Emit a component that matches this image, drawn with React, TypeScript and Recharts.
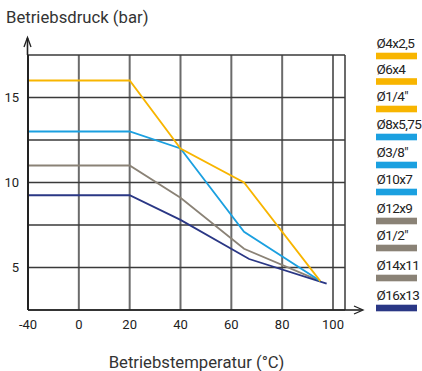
import React from 'react';
import { LineChart, Line, XAxis, YAxis, CartesianGrid } from 'recharts';

// ---- data ----
const tempTicks = [-40, 0, 20, 40, 60, 80, 100];
const pressureTicks = [2.5, 5, 7.5, 10, 12.5, 15, 17.5];
const pressureLabels = [5, 10, 15];

const yellowTemps = [-40, 20, 40, 65, 95];
const yellowValues = [16, 16, 12, 10, 4.2];
const blueTemps = [-40, 20, 40, 65, 95];
const blueValues = [13, 13, 12, 7.1, 4.2];
const grayTemps = [-40, 20, 40, 65, 95];
const grayValues = [11, 11, 9.1, 6.1, 4.2];
const navyTemps = [-40, 20, 40, 67, 97.5];
const navyValues = [9.25, 9.25, 7.8, 5.5, 4.05];

const legendLabels = ['Ø4x2,5', 'Ø6x4', 'Ø1/4"', 'Ø8x5,75', 'Ø3/8"', 'Ø10x7', 'Ø12x9', 'Ø1/2"', 'Ø14x11', 'Ø16x13'];
const legendGroups = ['yellow', 'yellow', 'yellow', 'blue', 'blue', 'blue', 'gray', 'gray', 'gray', 'navy'];

// ---- style ----
const COLORS: Record<string, string> = {
  yellow: '#F8B500',
  blue: '#1BA0E0',
  gray: '#8A8276',
  navy: '#2A3785',
};
const FONT = 'Roboto, sans-serif';
const legendCenters = [56, 81.5, 109, 137, 165, 192, 221, 248, 278, 308];

// non-uniform temperature axis: each tick interval is one unit
const toAxis = (t: number) => {
  for (let i = 0; i < tempTicks.length - 1; i++) {
    const a = tempTicks[i];
    const b = tempTicks[i + 1];
    if (t <= b || i === tempTicks.length - 2) return i + (t - a) / (b - a);
  }
  return 0;
};

const build = (temps: number[], vals: number[]) => temps.map((t, i) => ({ x: toAxis(t), y: vals[i] }));

const series = [
  { key: 'gray', data: build(grayTemps, grayValues) },
  { key: 'navy', data: build(navyTemps, navyValues) },
  { key: 'blue', data: build(blueTemps, blueValues) },
  { key: 'yellow', data: build(yellowTemps, yellowValues) },
];

export default function App() {
  return (
    <div style={{ position: 'absolute', left: 0, top: 0, width: 422, height: 371, background: '#fff' }}>
      <LineChart width={422} height={371} margin={{ top: 55, right: 77, bottom: 31, left: 8 }}>
        <CartesianGrid horizontal={false} stroke="#6b6b6b" strokeWidth={2} />
        <CartesianGrid vertical={false} stroke="#3a3a3a" strokeWidth={1.4} />
        <XAxis
          dataKey="x"
          type="number"
          domain={[0, 6.236]}
          ticks={tempTicks.map((_, i) => i)}
          tickFormatter={(v: number) => String(tempTicks[v])}
          allowDuplicatedCategory={false}
          height={30}
          axisLine={{ stroke: '#222', strokeWidth: 1.6 }}
          tickLine={false}
          tick={{ fill: '#222', fontSize: 13, fontFamily: FONT }}
          tickMargin={4}
          interval={0}
        />
        <YAxis
          type="number"
          domain={[2.5, 17.5]}
          ticks={pressureTicks}
          tickFormatter={(v: number) => (pressureLabels.includes(v) ? String(v) : '')}
          width={20}
          axisLine={{ stroke: '#222', strokeWidth: 2 }}
          tickLine={false}
          tick={{ fill: '#222', fontSize: 13, fontFamily: FONT }}
          tickMargin={3}
          interval={0}
        />
        {series.map((s) => (
          <Line
            key={s.key}
            data={s.data}
            dataKey="y"
            type="linear"
            stroke={COLORS[s.key]}
            strokeWidth={1.8}
            dot={false}
            activeDot={false}
            isAnimationActive={false}
          />
        ))}
      </LineChart>
      <svg width={422} height={371} style={{ position: 'absolute', left: 0, top: 0, pointerEvents: 'none' }}>
        <text x={6} y={23} fontSize={16.7} fontFamily={FONT} fill="#333">Betriebsdruck (bar)</text>
        <text x={196.5} y={368} fontSize={16.7} fontFamily={FONT} fill="#333" textAnchor="middle">Betriebstemperatur (°C)</text>
        {/* axis arrows */}
        <line x1={27.5} y1={55} x2={27.5} y2={38} stroke="#222" strokeWidth={1.6} />
        <polyline points="24,47 27.5,37.5 31,47" fill="none" stroke="#222" strokeWidth={1.3} />
        <line x1={345} y1={310} x2={362} y2={310} stroke="#222" strokeWidth={1.6} />
        <polyline points="354,306 363,310 354,314" fill="none" stroke="#222" strokeWidth={1.3} />
        {legendLabels.map((lab, i) => (
          <g key={lab}>
            <text x={376.5} y={legendCenters[i] - 8} fontSize={13.5} letterSpacing={-0.6} fontFamily={FONT} fill="#222">{lab}</text>
            <rect x={376} y={legendCenters[i] - 3.3} width={41} height={6.6} fill={COLORS[legendGroups[i]]} />
          </g>
        ))}
      </svg>
    </div>
  );
}
